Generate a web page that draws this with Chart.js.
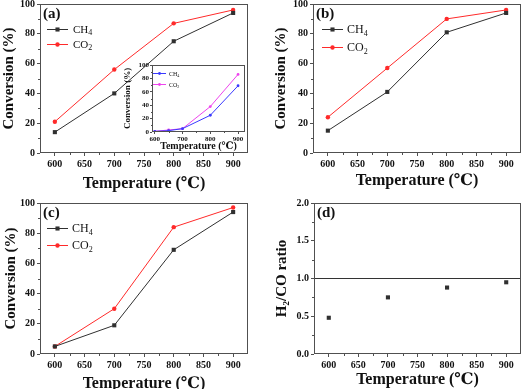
<!DOCTYPE html>
<html>
<head>
<meta charset="utf-8">
<script src="https://cdn.jsdelivr.net/npm/chart.js@4.4.0/dist/chart.umd.min.js"></script>
<style>
    html, body { margin: 0; padding: 0; background: #fff; overflow: hidden; width: 526px; height: 389px; }
    canvas { position: absolute; }
</style>
</head>
<body>
<canvas id="chartA" width="263" height="195" style="left:0;top:0"></canvas>
<canvas id="chartB" width="263" height="195" style="left:263px;top:0"></canvas>
<canvas id="chartC" width="263" height="200" style="left:0;top:195px"></canvas>
<canvas id="chartD" width="263" height="200" style="left:263px;top:195px"></canvas>
<canvas id="chartInset" width="135" height="98" style="left:118px;top:58px"></canvas>
<script>
// values
const temperatures = [600, 700, 800, 900];
const ch4A = [14, 40, 75, 94];
const co2A = [21, 56, 87, 96];
const ch4B = [15, 41, 81, 94];
const co2B = [24, 57, 90, 96];
const ch4C = [5, 19, 69, 94];
const co2C = [5, 30, 84, 97];
const ratioD = [0.48, 0.75, 0.88, 0.95];
const ratioRef = [1.0];

const insetTemps = [600, 650, 700, 800, 900];
const insetCH4 = [1, 2, 5, 25, 69];
const insetCO2 = [1, 3, 5, 38, 86];

const xTicks = [600, 650, 700, 750, 800, 850, 900];
const insetXTicks = [600, 700, 800, 900];
const convTicks = [0, 20, 40, 60, 80, 100];
const ratioTicks = [0, 0.5, 1.0, 1.5, 2.0];
const legendNames = [["CH", "4"], ["CO", "2"]];

const FONT = "'Liberation Serif', 'Times New Roman', 'DejaVu Serif', serif";
const AXIS_COLOR = "#505050";
const TEXT_COLOR = "#111";
const CH4_COLOR = "#303030";
const CO2_COLOR = "#ff2a2a";
const X_TITLE = "Temperature (\u2103)";

function midpoints(ticks) {
    return ticks.slice(1).map((v, i) => (v + ticks[i]) / 2);
}

// frame, minor ticks, panel letter and legend
const panelDeco = {
    id: "panelDeco",
    beforeDraw(chart, args, opts) {
        if (!opts.fill) return;
        const a = chart.chartArea;
        chart.ctx.save();
        chart.ctx.fillStyle = opts.fill;
        chart.ctx.fillRect(a.left, a.top, a.width, a.height);
        chart.ctx.restore();
    },
    afterDraw(chart, args, opts) {
        const { ctx, chartArea: a, scales } = chart;
        ctx.save();
        ctx.strokeStyle = AXIS_COLOR;
        ctx.lineWidth = 1;
        ctx.strokeRect(Math.round(a.left) + 0.5, Math.round(a.top) + 0.5,
            Math.round(a.width) - 1, Math.round(a.height) - 1);

        ctx.beginPath();
        midpoints(opts.xTicks).forEach((v) => {
            const x = Math.round(scales.x.getPixelForValue(v)) + 0.5;
            ctx.moveTo(x, a.bottom);
            ctx.lineTo(x, a.bottom + opts.minor);
        });
        midpoints(opts.yTicks).forEach((v) => {
            const y = Math.round(scales.y.getPixelForValue(v)) + 0.5;
            ctx.moveTo(a.left, y);
            ctx.lineTo(a.left - opts.minor, y);
        });
        ctx.stroke();

        if (opts.label) {
            ctx.fillStyle = TEXT_COLOR;
            ctx.font = "bold 15px " + FONT;
            ctx.textBaseline = "middle";
            ctx.textAlign = "left";
            ctx.fillText(opts.label, a.left + 3, a.top + 10);
        }

        const lg = opts.legend;
        if (lg) {
            legendNames.forEach((name, i) => {
                const ds = chart.data.datasets[i];
                const x0 = a.left + lg.x;
                const y = a.top + lg.y + i * lg.dy;
                ctx.strokeStyle = ds.borderColor;
                ctx.lineWidth = 1;
                ctx.beginPath();
                ctx.moveTo(x0, y + 0.5);
                ctx.lineTo(x0 + lg.len, y + 0.5);
                ctx.stroke();
                const cx = x0 + lg.len / 2;
                ctx.fillStyle = ds.backgroundColor;
                if (ds.pointStyle === "rect") {
                    const s = ds.pointRadius * Math.SQRT2;
                    ctx.fillRect(cx - s / 2, y + 0.5 - s / 2, s, s);
                } else {
                    ctx.beginPath();
                    ctx.arc(cx, y + 0.5, ds.pointRadius, 0, Math.PI * 2);
                    ctx.fill();
                }
                ctx.fillStyle = TEXT_COLOR;
                ctx.textBaseline = "middle";
                ctx.textAlign = "left";
                ctx.font = lg.size + "px " + FONT;
                const tx = x0 + lg.len + lg.gap;
                ctx.fillText(name[0], tx, y + 1);
                const w = ctx.measureText(name[0]).width;
                ctx.font = Math.round(lg.size * 0.7) + "px " + FONT;
                ctx.fillText(name[1], tx + w, y + 1 + lg.size * 0.3);
            });
        }
        ctx.restore();
    },
};

function series(xs, ys, color, style, radius, width) {
    return {
        data: xs.map((x, i) => ({ x, y: ys[i] })),
        borderColor: color,
        backgroundColor: color,
        borderWidth: width,
        pointStyle: style,
        pointRadius: radius,
        pointBorderWidth: 0,
        tension: 0,
    };
}

function makePanel(id, geo, datasets, deco) {
    const tickFont = { family: FONT, size: geo.tickSize, weight: "bold" };
    return new Chart(document.getElementById(id), {
        type: "line",
        data: { datasets },
        plugins: [panelDeco],
        options: {
            responsive: false,
            animation: false,
            layout: { padding: { left: 0, right: geo.padRight, top: geo.padTop, bottom: 0 } },
            plugins: {
                legend: { display: false },
                tooltip: { enabled: false },
                panelDeco: deco,
            },
            scales: {
                x: {
                    type: "linear",
                    min: geo.xMin,
                    max: geo.xMax,
                    afterBuildTicks: (s) => { s.ticks = deco.xTicks.map((v) => ({ value: v })); },
                    afterFit: (s) => {
                        s.height = geo.xAxisH;
                        s.paddingLeft = 0;
                        s.paddingRight = 0;
                    },
                    grid: { drawOnChartArea: false, drawTicks: true, tickLength: geo.tick, color: AXIS_COLOR },
                    border: { display: false },
                    ticks: { font: tickFont, color: TEXT_COLOR, padding: geo.tickPad, maxRotation: 0, autoSkip: false },
                    title: {
                        display: true,
                        text: X_TITLE,
                        color: TEXT_COLOR,
                        font: { family: FONT, size: geo.xTitleSize, weight: "bold", lineHeight: 1.2 },
                        padding: { top: 0, bottom: geo.xTitlePad },
                    },
                },
                y: {
                    min: deco.yTicks[0],
                    max: deco.yTicks[deco.yTicks.length - 1],
                    afterBuildTicks: (s) => { s.ticks = deco.yTicks.map((v) => ({ value: v })); },
                    afterFit: (s) => {
                        s.width = geo.yAxisW;
                        s.paddingTop = 0;
                        s.paddingBottom = 0;
                    },
                    grid: { drawOnChartArea: false, drawTicks: true, tickLength: geo.tick, color: AXIS_COLOR },
                    border: { display: false },
                    ticks: {
                        font: tickFont,
                        color: TEXT_COLOR,
                        padding: geo.tickPad,
                        autoSkip: false,
                        callback: (v) => v.toFixed(geo.decimals),
                    },
                    title: {
                        display: true,
                        text: geo.yTitle,
                        color: TEXT_COLOR,
                        font: { family: FONT, size: geo.yTitleSize, weight: "bold", lineHeight: 1.2 },
                        padding: { top: geo.yTitlePad, bottom: 0 },
                    },
                },
            },
        },
    });
}

const mainGeo = {
    xMin: 575, xMax: 925, tick: 3, tickPad: 2, tickSize: 10,
    xTitleSize: 16, yTitleSize: 15, decimals: 0, yTitle: "Conversion (%)",
};

makePanel("chartA",
    { ...mainGeo, yAxisW: 40, xAxisH: 42, padRight: 15, padTop: 3, yTitlePad: 0, xTitlePad: 2 },
    [series(temperatures, ch4A, CH4_COLOR, "rect", 2.9, 1), series(temperatures, co2A, CO2_COLOR, "circle", 2.2, 1)],
    { xTicks, yTicks: convTicks, minor: 2, label: "(a)", legend: { x: 7, y: 25, dy: 15, len: 21, gap: 5, size: 11 } });

makePanel("chartB",
    { ...mainGeo, yAxisW: 50, xAxisH: 42, padRight: 5, padTop: 2, yTitlePad: 9, xTitlePad: 5 },
    [series(temperatures, ch4B, CH4_COLOR, "rect", 2.9, 1), series(temperatures, co2B, CO2_COLOR, "circle", 2.2, 1)],
    { xTicks, yTicks: convTicks, minor: 2, label: "(b)", legend: { x: 9, y: 25, dy: 18, len: 21, gap: 4, size: 12 } });

makePanel("chartC",
    { ...mainGeo, yAxisW: 40, xAxisH: 41, padRight: 15, padTop: 8, yTitlePad: 2, xTitlePad: 2 },
    [series(temperatures, ch4C, CH4_COLOR, "rect", 2.9, 1), series(temperatures, co2C, CO2_COLOR, "circle", 2.2, 1)],
    { xTicks, yTicks: convTicks, minor: 2, label: "(c)", legend: { x: 7, y: 25, dy: 17, len: 21, gap: 4, size: 12 } });

makePanel("chartD",
    { ...mainGeo, decimals: 1, yTitle: "H\u2082/CO ratio", yAxisW: 51, xAxisH: 41, padRight: 5, padTop: 8, yTitlePad: 10, xTitlePad: 6 },
    [
        { ...series(temperatures, ratioD, CH4_COLOR, "rect", 2.9, 0), showLine: false },
        series([mainGeo.xMin, mainGeo.xMax], [ratioRef[0], ratioRef[0]], "#333", "circle", 0, 1),
    ],
    { xTicks, yTicks: ratioTicks, minor: 2, label: "(d)" });

makePanel("chartInset",
    {
        xMin: 590, xMax: 925, tick: 2, tickPad: 1, tickSize: 7, xTitleSize: 10, yTitleSize: 9,
        decimals: 0, yTitle: "Conversion (%)",
        yAxisW: 34, xAxisH: 24, padRight: 8, padTop: 7, yTitlePad: 4, xTitlePad: 4,
    },
    [series(insetTemps, insetCH4, "#3a3aff", "circle", 1.4, 1), series(insetTemps, insetCO2, "#ee44ee", "circle", 1.4, 1)],
    { xTicks: insetXTicks, yTicks: convTicks, minor: 1, fill: "#fff", legend: { x: 1, y: 8, dy: 11, len: 13, gap: 3, size: 6 } });
</script>
</body>
</html>
